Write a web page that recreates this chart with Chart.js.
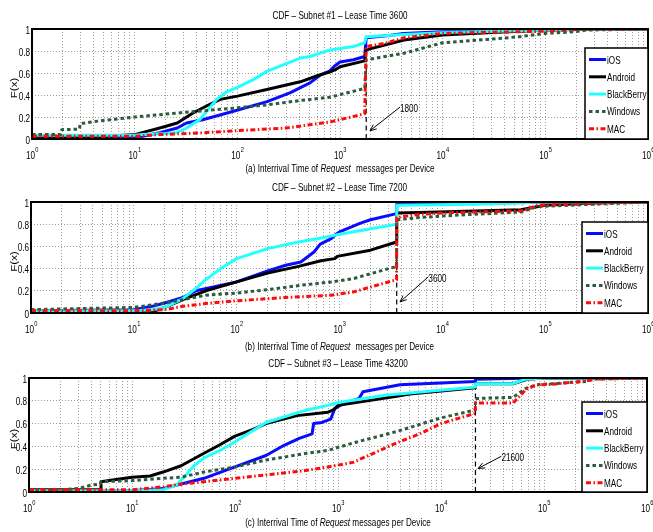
<!DOCTYPE html>
<html><head><meta charset="utf-8">
<script src="https://cdn.jsdelivr.net/npm/chart.js@4/dist/chart.umd.min.js"></script>
<style>
html,body{margin:0;padding:0;background:#fff;}
#wrap{position:relative;width:653px;height:532px;overflow:hidden;background:#fff;}
canvas{position:absolute;left:0;}
</style></head><body>
<div id="wrap">
<canvas id="c0" width="653" height="178" style="top:0px"></canvas>
<canvas id="c1" width="653" height="177" style="top:178px"></canvas>
<canvas id="c2" width="653" height="177" style="top:355px"></canvas>
</div>
<script>
// ---------- data ----------
const seriesNames = ['iOS','Android','BlackBerry','Windows','MAC'];
const subnetIds = [1,2,3];
const leaseTimes = [3600,7200,43200];
const panelLetters = ['(a)','(b)','(c)'];
const markerValues = [1800,3600,21600];
const markerTops = [0.93,0.97,0.97];
const xTickExponents = [0,1,2,3,4,5,6];
const yTickValues = [0,0.2,0.4,0.6,0.8,1];
const yTickLabels = ['0','0.2','0.4','0.6','0.8','1'];
// arrow annotations: [tipX, tipY, tailX, tailY]
const arrowPoints = [[1960,0.075,3840,0.29],[3880,0.10,7310,0.326],[22900,0.206,38600,0.314]];

// Subnet #1
const s1_iOS = [[1,0.02],[10,0.02],[12,0.025],[18,0.06],[26,0.1],[32,0.145],[46,0.175],[90,0.25],[195,0.34],[325,0.42],[510,0.51],[640,0.58],[800,0.62],[870,0.657],[1000,0.70],[1350,0.72],[1740,0.75],[1800,0.92],[3000,0.94],[4200,0.96],[10000,0.975],[30000,0.98],[100000,0.99],[300000,1],[1000000,1]];
const s1_Android = [[1,0.02],[4.6,0.02],[10,0.04],[17.6,0.1],[26,0.145],[37,0.236],[50,0.3],[68,0.36],[100,0.39],[194,0.45],[410,0.52],[600,0.575],[800,0.61],[900,0.63],[1000,0.657],[1740,0.71],[1800,0.81],[4200,0.9],[10000,0.945],[27000,0.967],[56000,0.98],[117000,0.99],[300000,1],[1000000,1]];
const s1_BlackBerry = [[1,0.035],[10,0.035],[12,0.04],[20,0.05],[26,0.06],[32,0.1],[43,0.176],[50,0.25],[63,0.36],[79,0.43],[100,0.47],[143,0.54],[194,0.615],[284,0.676],[410,0.736],[510,0.75],[800,0.81],[1350,0.84],[1740,0.875],[1800,0.93],[4200,0.95],[12600,0.97],[56000,0.985],[117000,0.99],[250000,1],[1000000,1]];
const s1_Windows = [[1,0.04],[1.9,0.04],[1.95,0.085],[2.9,0.09],[2.95,0.14],[4.6,0.165],[10,0.2],[26,0.236],[91,0.28],[194,0.31],[410,0.35],[640,0.37],[800,0.38],[1740,0.46],[1800,0.72],[4200,0.78],[10000,0.875],[27000,0.905],[56000,0.93],[100000,0.96],[200000,0.976],[250000,0.99],[1000000,1]];
const s1_MAC = [[1,0.024],[10,0.024],[17.6,0.04],[43,0.055],[100,0.076],[302,0.1],[510,0.13],[800,0.155],[1160,0.19],[1740,0.23],[1800,0.84],[2750,0.87],[4200,0.92],[10000,0.96],[27000,0.97],[100000,0.98],[250000,1],[1000000,1]];

// Subnet #2
const s2_iOS = [[1,0.02],[10,0.03],[15,0.06],[20,0.09],[30,0.14],[40,0.2],[100,0.28],[200,0.38],[300,0.43],[420,0.46],[565,0.55],[650,0.62],[830,0.67],[930,0.71],[1000,0.73],[1600,0.81],[2000,0.84],[3590,0.895],[3600,0.98],[10000,0.985],[30000,0.99],[100000,1],[1000000,1]];
const s2_Android = [[1,0.01],[15,0.01],[20,0.05],[30,0.12],[50,0.2],[100,0.28],[200,0.36],[400,0.42],[660,0.47],[900,0.49],[950,0.51],[2000,0.566],[3590,0.64],[3600,0.9],[6000,0.905],[58000,0.93],[100000,0.97],[300000,0.99],[1000000,1]];
const s2_BlackBerry = [[1,0.02],[10,0.02],[15,0.03],[20,0.05],[30,0.13],[40,0.22],[50,0.3],[70,0.4],[100,0.49],[200,0.58],[400,0.64],[800,0.69],[1000,0.71],[3590,0.8],[3600,0.97],[20000,0.98],[60000,0.99],[80000,1],[1000000,1]];
const s2_Windows = [[1,0.03],[3,0.04],[10,0.05],[20,0.09],[30,0.12],[50,0.16],[100,0.18],[200,0.21],[420,0.25],[830,0.28],[1365,0.31],[3590,0.42],[3600,0.84],[6000,0.86],[13000,0.88],[58000,0.91],[85000,0.96],[300000,0.98],[1000000,1]];
const s2_MAC = [[1,0.02],[10,0.02],[20,0.03],[30,0.06],[50,0.085],[100,0.11],[300,0.14],[830,0.16],[1365,0.19],[3590,0.3],[3600,0.86],[6000,0.89],[13000,0.905],[58000,0.92],[85000,0.97],[300000,0.99],[1000000,1]];

// Subnet #3
const s3_iOS = [[1,0.01],[10,0.01],[20,0.03],[30,0.07],[50,0.12],[100,0.22],[200,0.32],[300,0.41],[420,0.47],[560,0.51],[580,0.6],[700,0.61],[850,0.64],[930,0.73],[1050,0.76],[1600,0.82],[1750,0.88],[4000,0.94],[21500,0.97],[21600,0.99],[80000,1],[1000000,1]];
const s3_Android = [[1,0.02],[4.9,0.02],[5,0.09],[6,0.1],[10,0.13],[15,0.14],[20,0.175],[30,0.23],[50,0.34],[70,0.41],[100,0.49],[150,0.55],[200,0.6],[400,0.67],[800,0.7],[900,0.72],[1000,0.76],[3700,0.84],[5000,0.86],[21500,0.915],[21600,0.95],[50000,0.95],[70000,0.99],[100000,1],[1000000,1]];
const s3_BlackBerry = [[1,0.01],[10,0.01],[20,0.02],[27,0.06],[32,0.13],[40,0.23],[50,0.3],[70,0.36],[100,0.44],[200,0.61],[500,0.72],[800,0.76],[1000,0.785],[3000,0.85],[21500,0.92],[21600,0.95],[50000,0.95],[67000,0.99],[100000,1],[1000000,1]];
const s3_Windows = [[1,0.02],[2,0.02],[3,0.03],[4,0.06],[4.9,0.07],[5,0.09],[10,0.1],[20,0.12],[30,0.13],[50,0.175],[100,0.22],[200,0.28],[500,0.34],[800,0.365],[1400,0.43],[3700,0.53],[10000,0.65],[21500,0.72],[21600,0.82],[50000,0.83],[67000,0.91],[85000,0.94],[122000,0.95],[258000,0.97],[300000,0.99],[1000000,1]];
const s3_MAC = [[1,0.02],[10,0.02],[20,0.045],[30,0.07],[50,0.09],[100,0.12],[200,0.15],[500,0.19],[800,0.22],[1400,0.26],[3700,0.43],[6200,0.51],[10000,0.6],[21500,0.69],[21600,0.78],[50000,0.78],[67000,0.9],[85000,0.94],[122000,0.945],[258000,0.975],[300000,0.99],[1000000,1]];

const panelData = [
  [s1_iOS,s1_Android,s1_BlackBerry,s1_Windows,s1_MAC],
  [s2_iOS,s2_Android,s2_BlackBerry,s2_Windows,s2_MAC],
  [s3_iOS,s3_Android,s3_BlackBerry,s3_Windows,s3_MAC]
];

// ---------- styles / layout ----------
const colors = ['#0a0aff','#000000','#22ffff','#2d5c3d','#ff0a0a'];
const dashes = [[],[],[],[3.5,3],[5,2.5,1.5,2.5]];
const geom = [
  {top:29,right:5,yw:32,xh:39,legW:63,legH:91,titleY:18.5,xlabelY:171.5,gap:3},
  {top:24,right:5,yw:31,xh:42,legW:66,legH:91,titleY:12.7,xlabelY:172,gap:3},
  {top:23,right:6,yw:29,xh:40,legW:65,legH:90,titleY:11.7,xlabelY:170.5,gap:0}
];
const FAM = '"Liberation Sans", Arial, sans-serif';
const FONT = '11.5px ' + FAM;
const FONT_I = 'italic 11.5px ' + FAM;
const FONT_SUP = '8px ' + FAM;
const SX = 0.71;

const xGridValues = [];
for (let e = 0; e < 6; e++) for (let m = 1; m <= 9; m++) xGridValues.push(m * Math.pow(10, e));
xGridValues.push(1e6);

function sqWidth(ctx, str, font, sx) { ctx.save(); ctx.font = font; const w = ctx.measureText(str).width * sx; ctx.restore(); return w; }
function sqText(ctx, str, x, y, font, sx) {
  ctx.save(); ctx.font = font; ctx.textAlign = 'left'; ctx.textBaseline = 'alphabetic';
  ctx.translate(x, y); ctx.scale(sx, 1); ctx.fillStyle = '#000'; ctx.fillText(str, 0, 0); ctx.restore();
}

function panelPlugin(p) {
  const g = geom[p];
  return {
    id: 'panelDeco' + p,
    beforeDatasetsDraw(chart) {
      const {ctx, chartArea: a, scales: {x, y}} = chart;
      const px = x.getPixelForValue(markerValues[p]);
      ctx.save();
      ctx.beginPath(); ctx.rect(a.left, a.top, a.right - a.left, a.bottom - a.top); ctx.clip();
      ctx.strokeStyle = '#000'; ctx.lineWidth = 1.2; ctx.setLineDash([5, 3.5]);
      ctx.beginPath(); ctx.moveTo(px, y.getPixelForValue(0)); ctx.lineTo(px, y.getPixelForValue(markerTops[p])); ctx.stroke();
      ctx.restore();
    },
    afterDatasetsDraw(chart) {
      const {ctx, chartArea: a, scales: {x, y}} = chart;
      ctx.save();
      // axes box
      ctx.setLineDash([]); ctx.strokeStyle = '#000'; ctx.lineWidth = 2;
      ctx.strokeRect(a.left, a.top, a.right - a.left, a.bottom - a.top);
      // arrow
      const ap = arrowPoints[p];
      const tx = x.getPixelForValue(ap[0]), ty = y.getPixelForValue(ap[1]);
      const sx = x.getPixelForValue(ap[2]), sy = y.getPixelForValue(ap[3]);
      ctx.lineWidth = 1; ctx.beginPath(); ctx.moveTo(sx, sy); ctx.lineTo(tx, ty); ctx.stroke();
      const ang = Math.atan2(ty - sy, tx - sx), L = 7, w = 0.4;
      ctx.beginPath();
      ctx.moveTo(tx - L * Math.cos(ang - w), ty - L * Math.sin(ang - w));
      ctx.lineTo(tx, ty);
      ctx.lineTo(tx - L * Math.cos(ang + w), ty - L * Math.sin(ang + w));
      ctx.stroke();
      sqText(ctx, String(markerValues[p]), sx, sy + 5, FONT, SX);
      // legend
      const LW = g.legW, LH = g.legH, Lx = a.right - LW, Ty = a.bottom - LH;
      ctx.fillStyle = '#fff'; ctx.fillRect(Lx, Ty, LW, LH);
      ctx.strokeStyle = '#000'; ctx.lineWidth = 1.5; ctx.strokeRect(Lx, Ty, LW, LH);
      seriesNames.forEach((n, i) => {
        const yy = Ty + 11.5 + i * 17.3;
        ctx.beginPath(); ctx.setLineDash(dashes[i]); ctx.strokeStyle = colors[i]; ctx.lineWidth = 3;
        ctx.moveTo(Lx + 4, yy); ctx.lineTo(Lx + 21, yy); ctx.stroke(); ctx.setLineDash([]);
        sqText(ctx, n, Lx + 22, yy + 4, FONT, SX);
      });
      ctx.restore();
    },
    afterDraw(chart) {
      const {ctx, chartArea: a, scales: {x, y}} = chart;
      const cx = (a.left + a.right) / 2;
      // x tick labels 10^e
      xTickExponents.forEach(e => {
        const px = x.getPixelForValue(Math.pow(10, e));
        const wb = sqWidth(ctx, '10', FONT, SX), we = sqWidth(ctx, String(e), FONT_SUP, SX);
        const start = px - (wb + we) / 2;
        sqText(ctx, '10', start, a.bottom + 19.5, FONT, SX);
        sqText(ctx, String(e), start + wb + 0.4, a.bottom + 13.3, FONT_SUP, SX);
      });
      // y tick labels
      yTickValues.forEach((v, i) => {
        const py = y.getPixelForValue(v);
        const w = sqWidth(ctx, yTickLabels[i], FONT, SX);
        sqText(ctx, yTickLabels[i], a.left - 2 - w, py + 4.5, FONT, SX);
      });
      // title
      const title = 'CDF \u2013 Subnet #' + subnetIds[p] + ' \u2013 Lease Time ' + leaseTimes[p];
      const tw = sqWidth(ctx, title, FONT, SX);
      sqText(ctx, title, cx - tw / 2, g.titleY, FONT, SX);
      // x label with italic part
      const parts = [[panelLetters[p] + ' Interrival Time of ', FONT], ['Request', FONT_I], [' messages per Device', FONT]];
      const widths = parts.map(pt => sqWidth(ctx, pt[0], pt[1], SX));
      const total = widths.reduce((s, v) => s + v, 0) + g.gap;
      let xx = cx - total / 2;
      parts.forEach((pt, i) => { sqText(ctx, pt[0], xx, g.xlabelY, pt[1], SX); xx += widths[i] + (i === 1 ? g.gap : 0); });
      // y label
      ctx.save();
      ctx.font = FONT; const yl = 'F(x)'; const yw = ctx.measureText(yl).width;
      ctx.translate(16.5, (a.top + a.bottom) / 2 + 4);
      ctx.rotate(-Math.PI / 2); ctx.scale(1, SX);
      ctx.fillStyle = '#000'; ctx.textAlign = 'left'; ctx.textBaseline = 'alphabetic';
      ctx.fillText(yl, -yw / 2, 0);
      ctx.restore();
    }
  };
}

function makeChart(p) {
  const g = geom[p];
  const datasets = panelData[p].map((pts, i) => ({
    label: seriesNames[i],
    data: pts.map(v => ({x: v[0], y: v[1]})),
    borderColor: colors[i], backgroundColor: colors[i],
    borderWidth: 3, borderDash: dashes[i], borderCapStyle: 'butt', borderJoinStyle: 'round',
    pointRadius: 0, fill: false, tension: 0, order: 5 - i
  }));
  return new Chart(document.getElementById('c' + p), {
    type: 'line',
    data: {datasets},
    plugins: [panelPlugin(p)],
    options: {
      responsive: false, animation: false, devicePixelRatio: 1,
      parsing: false, normalized: true,
      layout: {padding: {left: 0, right: g.right, top: g.top, bottom: 0}},
      plugins: {legend: {display: false}, tooltip: {enabled: false}, title: {display: false}},
      scales: {
        x: {
          type: 'logarithmic', min: 1, max: 1e6, position: 'bottom',
          afterBuildTicks: s => { s.ticks = xGridValues.map(v => ({value: v})); },
          afterFit: s => { s.height = g.xh; s.paddingLeft = 0; s.paddingRight = 0; },
          ticks: {display: false, autoSkip: false, maxRotation: 0, minRotation: 0},
          grid: {color: 'rgba(0,0,0,0.38)', lineWidth: 1, drawTicks: false},
          border: {display: false, dash: [1, 2]}
        },
        y: {
          type: 'linear', min: 0, max: 1,
          afterBuildTicks: s => { s.ticks = yTickValues.map(v => ({value: v})); },
          afterFit: s => { s.width = g.yw; s.paddingTop = 0; s.paddingBottom = 0; },
          ticks: {display: false},
          grid: {color: 'rgba(0,0,0,0.38)', lineWidth: 1, drawTicks: false},
          border: {display: false, dash: [1, 2]}
        }
      }
    }
  });
}
[0, 1, 2].forEach(makeChart);
</script>
</body></html>
